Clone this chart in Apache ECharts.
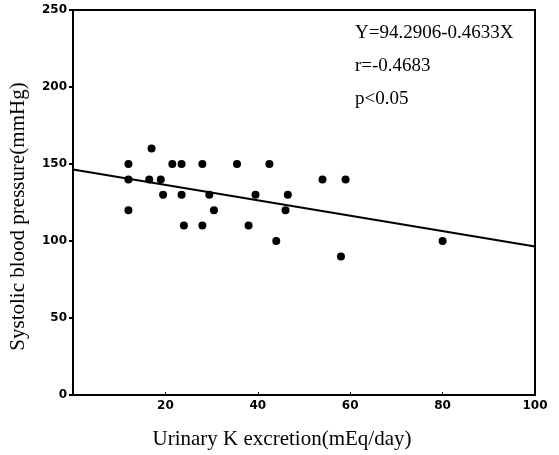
<!DOCTYPE html>
<html>
<head>
<meta charset="utf-8">
<script src="https://cdn.jsdelivr.net/npm/echarts@6/dist/echarts.min.js"></script>
<style>
  html, body { margin: 0; padding: 0; background: #fff; }
  #chart { width: 559px; height: 455px; }
</style>
</head>
<body>
<div id="chart"></div>
<script>
// urinary K excretion (mEq/day) vs systolic BP (mmHg)
const potassium = [12, 12, 12, 17, 16.5, 19, 19.5, 21.5, 23.5, 23.5, 28, 29.5, 30.5,
  24, 28, 38, 35.5, 39.5, 42.5, 44, 46.5, 46, 54, 59, 58, 80];
const systolic = [150, 140, 120, 160, 140, 140, 130, 150, 150, 130, 150, 130, 120,
  110, 110, 110, 150, 130, 150, 100, 130, 120, 140, 140, 90, 100];

// fitted line as drawn on the plot
const fitX = [0, 100];
const fitY = [146.5, 96.5];

const statLines = ['Y=94.2906-0.4633X', 'r=-0.4683', 'p<0.05'];

const chart = echarts.init(document.getElementById('chart'));

const tickFont = {
  color: '#000',
  fontFamily: 'DejaVu Sans',
  fontWeight: 'bold',
  fontSize: 12,
};

const option = {
  animation: false,
  backgroundColor: '#fff',
  grid: {
    left: 71,
    right: 24,
    top: 10,
    bottom: 60,
    show: true,
    borderColor: '#000',
    borderWidth: 2,
  },
  xAxis: {
    type: 'value',
    min: 0,
    max: 100,
    interval: 20,
    name: 'Urinary K excretion(mEq/day)',
    nameLocation: 'middle',
    nameGap: 34,
    // pushed a bit left of the plot centre, like the original
    nameTextStyle: {
      color: '#000', fontFamily: 'Liberation Serif', fontSize: 21, padding: [0, 44, 0, 0],
    },
    axisLine: { lineStyle: { color: '#000', width: 2 } },
    axisTick: { inside: true, length: 3, lineStyle: { color: '#000' } },
    axisLabel: { ...tickFont, margin: 5, showMinLabel: false },
    splitLine: { show: false },
  },
  yAxis: {
    type: 'value',
    min: 0,
    max: 250,
    interval: 50,
    name: 'Systolic blood pressure(mmHg)',
    nameLocation: 'middle',
    nameGap: 44,
    nameTextStyle: {
      color: '#000', fontFamily: 'Liberation Serif', fontSize: 21, padding: [0, 28, 0, 0],
    },
    axisLine: { lineStyle: { color: '#000', width: 2 } },
    axisTick: { length: 4, lineStyle: { color: '#000', width: 2 } },
    axisLabel: { ...tickFont, margin: 6 },
    splitLine: { show: false },
  },
  graphic: statLines.map((t, i) => ({
    type: 'text',
    left: 355,
    top: 24 + i * 33,
    style: {
      text: t,
      fill: '#000',
      font: '19px "Liberation Serif"',
    },
  })),
  series: [
    {
      type: 'scatter',
      symbol: 'circle',
      symbolSize: 8,
      itemStyle: { color: '#000', opacity: 1 },
      data: potassium.map((k, i) => [k, systolic[i]]),
    },
    {
      type: 'line',
      symbol: 'none',
      lineStyle: { color: '#000', width: 2 },
      data: fitX.map((x, i) => [x, fitY[i]]),
    },
  ],
};

chart.setOption(option);
</script>
</body>
</html>
